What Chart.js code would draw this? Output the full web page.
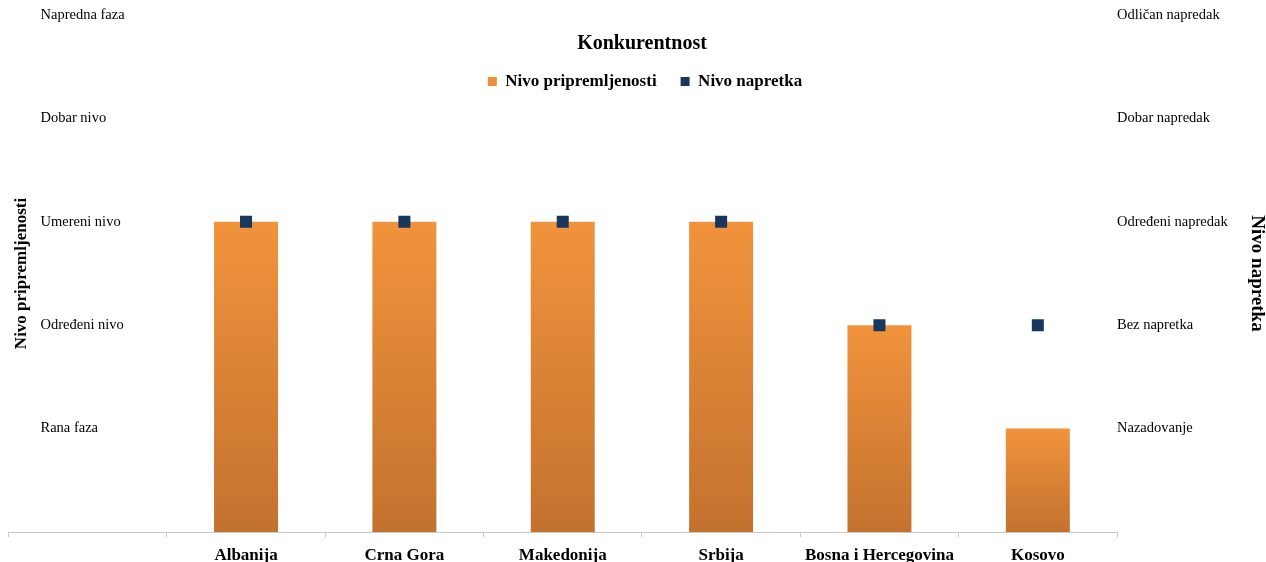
<!DOCTYPE html>
<html>
<head>
<meta charset="utf-8">
<title>Konkurentnost</title>
<script src="https://cdn.jsdelivr.net/npm/chart.js@4.4.1/dist/chart.umd.min.js"></script>
<style>
  html, body { margin: 0; padding: 0; background: #fff; overflow: hidden; }
  #chart { display: block; }
</style>
</head>
<body>
<canvas id="chart" width="1266" height="562"></canvas>
<script>
// categories (first slot is empty, the level names sit there)
const countries = ['', 'Albanija', 'Crna Gora', 'Makedonija', 'Srbija', 'Bosna i Hercegovina', 'Kosovo'];
const preparedness = [null, 3, 3, 3, 3, 2, 1];
const progress = [null, 3, 3, 3, 3, 2, 2];

// tick labels for the two axes (index = value)
const preparednessLevels = ['', 'Rana faza', 'Određeni nivo', 'Umereni nivo', 'Dobar nivo', 'Napredna faza'];
const progressLevels = ['', 'Nazadovanje', 'Bez napretka', 'Određeni napredak', 'Dobar napredak', 'Odličan napredak'];

const serif = "'Liberation Serif', 'Times New Roman', serif";
const orange = '#EE8E39';
const navy = '#17375E';
const axisGray = '#C8C8C8';

// every bar gets its own light-to-dark gradient, top to base
function barFill(ctx) {
    if (ctx.type !== 'data' || ctx.raw == null) return orange;
    const y = ctx.chart.scales.y;
    const top = y.getPixelForValue(ctx.raw);
    const base = y.getPixelForValue(0);
    const g = ctx.chart.ctx.createLinearGradient(0, top, 0, base);
    g.addColorStop(0, '#F1933C');
    g.addColorStop(1, '#C3722F');
    return g;
}

// title and legend float over the top of the plot, like in the original
const headerOverPlot = {
    id: 'headerOverPlot',
    afterLayout(chart) {
        const t = chart.titleBlock;
        t.top = t.bottom = 34;
        t.left += 9; t.right += 9;
        const l = chart.legend;
        const h = l.bottom - l.top;
        l.top = 49; l.bottom = 49 + h;
        l.left += 12; l.right += 12;
    }
};

new Chart(document.getElementById('chart'), {
    type: 'bar',
    data: {
        labels: countries,
        datasets: [
            {
                label: 'Nivo pripremljenosti',
                data: preparedness,
                yAxisID: 'y',
                backgroundColor: barFill,
                borderWidth: 0,
                categoryPercentage: 1,
                barPercentage: 0.404,
                order: 2
            },
            {
                type: 'line',
                label: 'Nivo napretka',
                data: progress,
                yAxisID: 'y2',
                showLine: false,
                pointStyle: 'rect',
                pointRadius: 8.5,
                pointHoverRadius: 8.5,
                pointBorderWidth: 0,
                backgroundColor: navy,
                borderColor: navy,
                borderWidth: 0,
                order: 1
            }
        ]
    },
    options: {
        responsive: false,
        animation: false,
        layout: { padding: { top: -36, left: 0, right: 0, bottom: 0 } },
        plugins: {
            title: {
                display: true,
                text: 'Konkurentnost',
                color: '#000',
                font: { family: serif, size: 20, weight: 'bold', lineHeight: 1 },
                padding: { top: 0, bottom: -20 }
            },
            legend: {
                display: true,
                labels: {
                    color: '#000',
                    font: { family: serif, size: 17, weight: 'bold' },
                    boxWidth: 9,
                    boxHeight: 9,
                    padding: 24,
                    sort: (a, b) => a.datasetIndex - b.datasetIndex
                }
            },
            tooltip: { enabled: false }
        },
        scales: {
            x: {
                grid: { display: true, drawOnChartArea: false, drawTicks: true, tickLength: 5, color: axisGray, offset: true },
                border: { display: true, color: axisGray, width: 1 },
                ticks: { color: '#000', font: { family: serif, size: 17, weight: 'bold' }, padding: 8, autoSkip: false, maxRotation: 0 },
                afterFit(scale) { scale.height = 30; }
            },
            y: {
                position: 'left',
                min: 0,
                max: 5,
                grid: { display: false, drawTicks: false },
                border: { display: false },
                ticks: {
                    stepSize: 1,
                    mirror: true,
                    crossAlign: 'near',
                    padding: 32,
                    color: '#000',
                    font: { family: serif, size: 14.5 },
                    callback: v => preparednessLevels[v]
                },
                title: {
                    display: true,
                    text: 'Nivo pripremljenosti',
                    color: '#000',
                    font: { family: serif, size: 17, weight: 'bold', lineHeight: 1 },
                    padding: { top: 11.5, bottom: 0 }
                },
                afterFit(scale) {
                    scale.width = 7;
                    scale.paddingTop = 0;
                    scale.paddingBottom = 0;
                }
            },
            y2: {
                position: 'right',
                min: 0,
                max: 5,
                grid: { display: false, drawTicks: false },
                border: { display: false },
                ticks: {
                    stepSize: 1,
                    padding: 0,
                    color: '#000',
                    font: { family: serif, size: 14.5 },
                    callback: v => progressLevels[v]
                },
                title: {
                    display: true,
                    text: 'Nivo napretka',
                    color: '#000',
                    font: { family: serif, size: 19, weight: 'bold', lineHeight: 1 },
                    padding: { top: 0, bottom: 0 }
                },
                afterFit(scale) {
                    scale.width = 149;
                    scale.paddingTop = 0;
                    scale.paddingBottom = 0;
                }
            }
        }
    },
    plugins: [headerOverPlot]
});
</script>
</body>
</html>
